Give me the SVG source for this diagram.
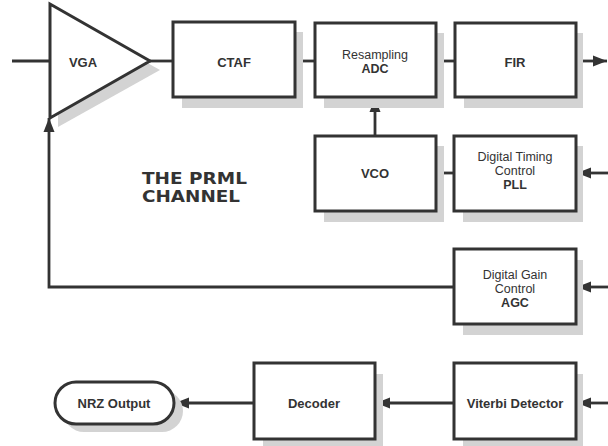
<svg xmlns="http://www.w3.org/2000/svg" width="608" height="446" viewBox="0 0 608 446">
<style>
.box{fill:#fff;stroke:#333;stroke-width:3}
.sh{fill:#d3d3d3}
.ln{fill:none;stroke:#333;stroke-width:2.8}
text{font-family:"Liberation Sans",Arial,Helvetica,sans-serif;fill:#333;text-anchor:middle;font-size:13px}
.b{font-weight:bold}
.s{font-size:12.5px}
.title{font-family:"DejaVu Sans","Liberation Sans",sans-serif;font-weight:bold;font-size:15.5px;text-anchor:start}
</style>
<defs>
<marker id="ah" markerUnits="userSpaceOnUse" markerWidth="15" markerHeight="12" refX="14" refY="6" orient="auto">
<path d="M0,0.5 L14,6 L0,11.5 z" fill="#333"/>
</marker>
</defs>
<rect width="608" height="446" fill="#fff"/>

<g id="connectors">
<line class="ln" x1="12" y1="61" x2="50" y2="61"/>
<line class="ln" x1="150" y1="61" x2="173" y2="61"/>
<line class="ln" x1="295" y1="61" x2="315" y2="61"/>
<line class="ln" x1="436" y1="61" x2="455" y2="61"/>
<line class="ln" x1="576" y1="61" x2="607" y2="61" marker-end="url(#ah)"/>
<line class="ln" x1="375" y1="136" x2="375" y2="98" marker-end="url(#ah)"/>
<line class="ln" x1="436" y1="173" x2="454" y2="173"/>
<line class="ln" x1="608" y1="173" x2="577" y2="173" marker-end="url(#ah)"/>
<polyline class="ln" points="454,287 49,287 49,118" marker-end="url(#ah)"/>
<line class="ln" x1="608" y1="287" x2="577" y2="287" marker-end="url(#ah)"/>
<line class="ln" x1="608" y1="403" x2="577" y2="403" marker-end="url(#ah)"/>
<line class="ln" x1="454" y1="403" x2="376" y2="403" marker-end="url(#ah)"/>
<line class="ln" x1="254" y1="403" x2="175" y2="403" marker-end="url(#ah)"/>
</g>

<g id="vga">
<polygon class="sh" points="58,13 160,70 58,127"/>
<polygon class="box" points="50,4 150,61 50,118"/>
<text class="b" x="83" y="67">VGA</text>
</g>

<g id="ctaf">
<rect class="sh" x="182" y="32" width="121" height="76"/>
<rect class="box" x="173" y="22" width="122" height="75"/>
<text class="b" x="234" y="67">CTAF</text>
</g>

<g id="adc">
<rect class="sh" x="324" y="33" width="120" height="75"/>
<rect class="box" x="315" y="23" width="121" height="74"/>
<text class="s" x="375" y="59">Resampling</text>
<text class="b s" x="375" y="73">ADC</text>
</g>

<g id="fir">
<rect class="sh" x="464" y="33" width="119" height="75"/>
<rect class="box" x="455" y="23" width="121" height="74"/>
<text class="b" x="515" y="67">FIR</text>
</g>

<g id="vco">
<rect class="sh" x="324" y="146" width="120" height="76"/>
<rect class="box" x="315" y="136" width="121" height="75"/>
<text class="b" x="375" y="178">VCO</text>
</g>

<g id="pll">
<rect class="sh" x="463" y="146" width="120" height="76"/>
<rect class="box" x="454" y="136" width="122" height="75"/>
<text class="s" x="515" y="161">Digital Timing</text>
<text class="s" x="515" y="175">Control</text>
<text class="b s" x="515" y="189">PLL</text>
</g>

<g id="title">
<text class="title" x="142" y="184" textLength="105" lengthAdjust="spacingAndGlyphs">THE PRML</text>
<text class="title" x="142" y="202" textLength="98" lengthAdjust="spacingAndGlyphs">CHANNEL</text>
</g>

<g id="agc">
<rect class="sh" x="463" y="260" width="120" height="75"/>
<rect class="box" x="454" y="249" width="122" height="75"/>
<text class="s" x="515" y="279">Digital Gain</text>
<text class="s" x="515" y="293">Control</text>
<text class="b s" x="515" y="307">AGC</text>
</g>

<g id="viterbi">
<rect class="sh" x="463" y="374" width="120" height="72"/>
<rect class="box" x="454" y="363" width="122" height="76"/>
<text class="b" x="515" y="408" font-size="14">Viterbi Detector</text>
</g>

<g id="decoder">
<rect class="sh" x="263" y="374" width="120" height="72"/>
<rect class="box" x="254" y="363" width="121" height="76"/>
<text class="b" x="314" y="408">Decoder</text>
</g>

<g id="nrz">
<rect class="sh" x="63" y="390" width="120" height="42" rx="21"/>
<rect class="box" x="55" y="382" width="119" height="42" rx="21"/>
<text class="b" x="114" y="408" font-size="14">NRZ Output</text>
</g>
</svg>
